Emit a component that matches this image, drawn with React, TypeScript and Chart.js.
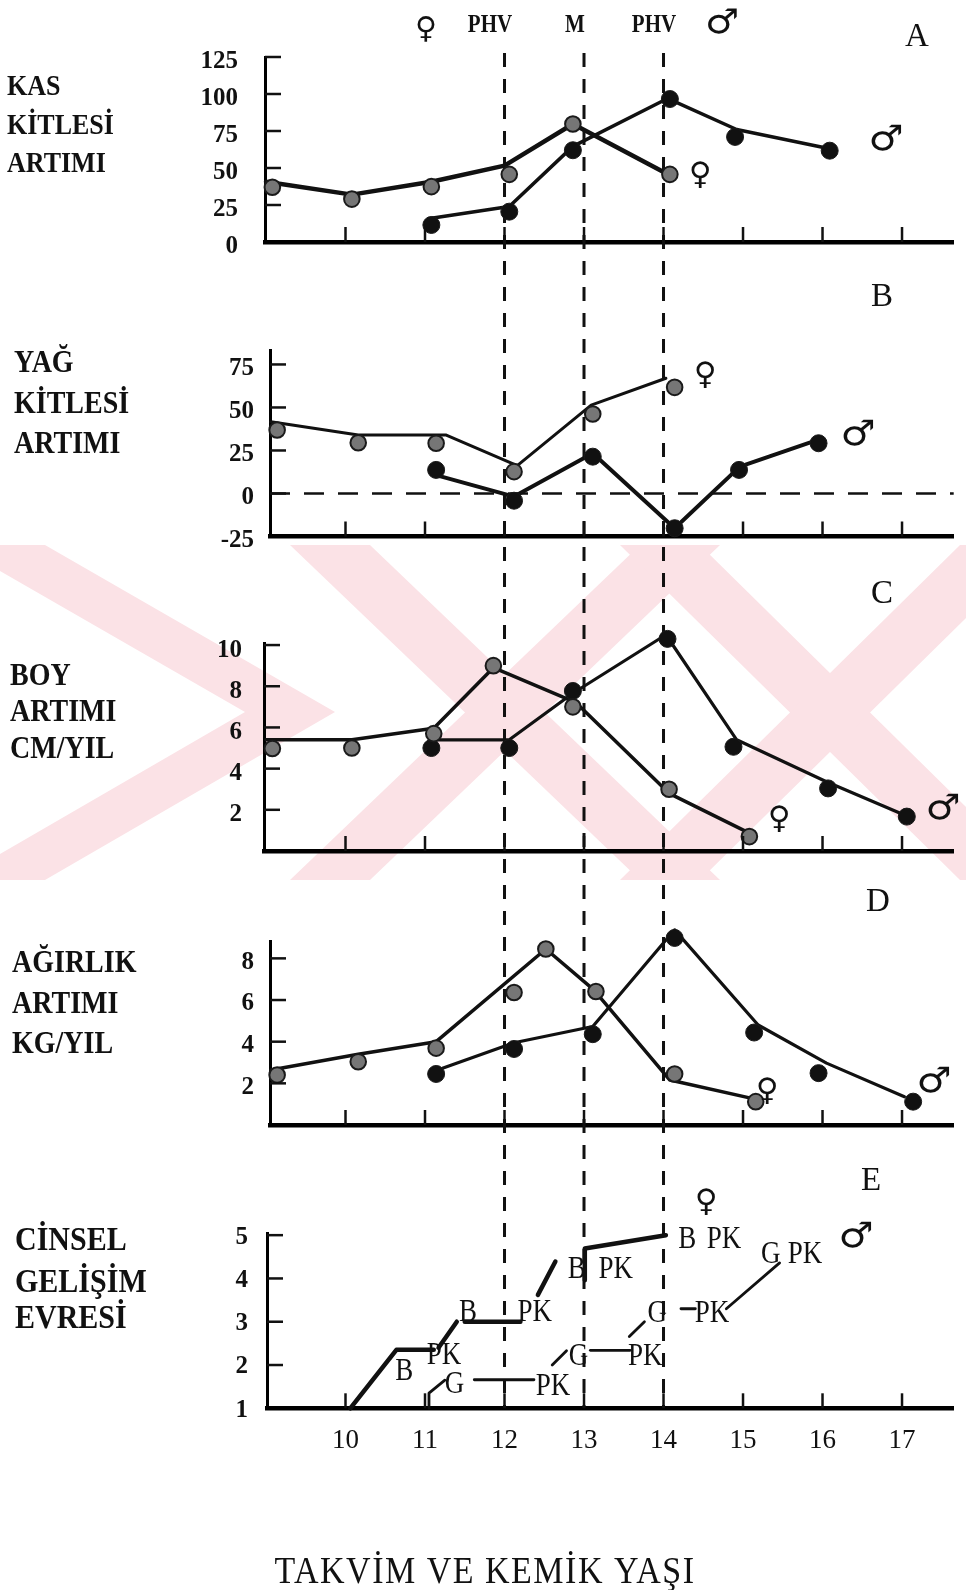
import React, { useEffect, useRef } from "react";
import { Chart, registerables } from "chart.js";

Chart.register(...registerables);

type Pair = [number, number];

// ---------- shared axis data ----------
const ageTicks = [10, 11, 12, 13, 14, 15, 16, 17];
const eventAges = [12, 13, 14]; // ♀ PHV, M (menarş), ♂ PHV
const AGE_MAX = 17.65;

// ---------- A : KAS KİTLESİ ARTIMI ----------
const kasTicks = [0, 25, 50, 75, 100, 125];
const kasFemaleLine: Pair[] = [[9.0, 40.7], [10.08, 32], [11.08, 40.7], [12.0, 51.6], [12.86, 79.7], [14.03, 46.4]];
const kasFemalePoints: Pair[] = [[9.08, 37], [10.08, 29], [11.08, 37.4], [12.06, 45.7], [12.86, 79.7], [14.08, 45.7]];
const kasMaleLine: Pair[] = [[11.08, 16], [12.06, 24], [12.86, 64.6], [14.05, 97], [14.92, 76], [16.09, 63]];
const kasMalePoints: Pair[] = [[11.08, 11.5], [12.06, 20.5], [12.86, 62], [14.08, 96.6], [14.9, 71], [16.09, 61.7]];

// ---------- B : YAĞ KİTLESİ ARTIMI ----------
const yagTicks = [-25, 0, 25, 50, 75];
const yagFemaleLine: Pair[] = [[9.06, 41.7], [10.16, 34], [11.26, 34], [12.16, 16.2], [13.09, 51.4], [14.03, 67]];
const yagFemalePoints: Pair[] = [[9.14, 36.9], [10.16, 29.5], [11.14, 29.2], [12.12, 12.7], [13.11, 46.2], [14.14, 61.7]];
const yagMaleLine: Pair[] = [[11.14, 10.7], [12.12, -1.8], [13.11, 23.4], [14.14, -20.2], [14.96, 15.6], [15.93, 31]];
const yagMalePoints: Pair[] = [[11.14, 13.7], [12.12, -4.2], [13.11, 21.4], [14.14, -20.2], [14.95, 13.7], [15.95, 29.2]];

// ---------- C : BOY ARTIMI CM/YIL ----------
const boyTicks = [2, 4, 6, 8, 10];
const boyFemaleLine: Pair[] = [[9.0, 5.4], [10.08, 5.4], [11.11, 5.96], [11.86, 8.9], [12.9, 7.2], [14.07, 2.8], [15.08, 0.87]];
const boyFemalePoints: Pair[] = [[9.08, 4.98], [10.08, 5.0], [11.11, 5.7], [11.86, 9.0], [12.86, 7.0], [14.07, 3.0], [15.08, 0.7]];
const boyMaleLine: Pair[] = [[11.11, 5.4], [12.06, 5.4], [12.86, 7.66], [14.03, 10.5], [14.92, 5.4], [16.05, 3.36], [17.03, 1.75]];
const boyMalePoints: Pair[] = [[11.08, 5.0], [12.06, 5.0], [12.86, 7.77], [14.05, 10.3], [14.88, 5.06], [16.07, 3.04], [17.06, 1.67]];

// ---------- D : AĞIRLIK ARTIMI KG/YIL ----------
const agirlikTicks = [2, 4, 6, 8];
const agirlikFemaleLine: Pair[] = [[9.06, 2.64], [10.16, 3.4], [11.14, 4.0], [12.52, 8.45], [13.12, 6.5], [14.08, 2.16], [15.11, 1.28]];
const agirlikFemalePoints: Pair[] = [[9.14, 2.4], [10.16, 3.04], [11.14, 3.69], [12.12, 6.36], [12.52, 8.45], [13.15, 6.41], [14.14, 2.45], [15.16, 1.12]];
const agirlikMaleLine: Pair[] = [[11.22, 2.73], [12.12, 3.95], [13.11, 4.73], [14.14, 9.37], [15.19, 4.8], [16.05, 2.97], [17.03, 1.36]];
const agirlikMalePoints: Pair[] = [[11.14, 2.45], [12.12, 3.65], [13.11, 4.36], [14.14, 8.98], [15.14, 4.44], [15.95, 2.49], [17.14, 1.12]];

// ---------- E : CİNSEL GELİŞİM EVRESİ ----------
const evreTicks = [1, 2, 3, 4, 5];
const evreFemaleSegments: Pair[][] = [
  [[10.06, 1.0], [10.64, 2.35], [11.11, 2.35]],
  [[11.17, 2.4], [11.4, 3.0]],
  [[11.5, 3.0], [12.2, 3.0]],
  [[12.42, 3.62], [12.64, 4.39]],
  [[13.01, 3.96], [13.01, 4.69], [14.03, 5.0]],
];
const evreMaleSegments: Pair[][] = [
  [[11.05, 1.0], [11.05, 1.35], [11.25, 1.65]],
  [[11.62, 1.66], [12.37, 1.66]],
  [[12.6, 2.0], [12.78, 2.33]],
  [[13.08, 2.34], [13.58, 2.34]],
  [[13.57, 2.66], [13.76, 3.0]],
  [[14.22, 3.3], [14.4, 3.3]],
  [[14.79, 3.3], [15.46, 4.36]],
];
// stage annotation texts (B = meme, G = genital, PK = pubik kıl), anchored at [age, stage]
const evreFemaleLabels: [string, number, number][] = [
  ["B", 10.74, 1.84], ["PK", 11.24, 2.21], ["B", 11.54, 3.2], ["PK", 12.38, 3.2],
  ["B", 12.91, 4.2], ["PK", 13.4, 4.2], ["B", 14.3, 4.89], ["PK", 14.76, 4.89],
];
const evreMaleLabels: [string, number, number][] = [
  ["G", 11.37, 1.54], ["PK", 12.61, 1.49], ["G", 12.93, 2.19], ["PK", 13.77, 2.19],
  ["G", 13.92, 3.18], ["PK", 14.61, 3.18], ["G", 15.35, 4.54], ["PK", 15.78, 4.54],
];

// ---------- styling / layout ----------
const SERIF = '"Liberation Serif", "Times New Roman", serif';
const SYM = '"DejaVu Sans", sans-serif';
const INK = "#111";
const FEMALE_FILL = "#767676";
const MALE_FILL = "#111";
const WATERMARK = "#fbe2e6";
const DASH_TOP = 53;
const DASH_BOTTOM = 1408;
const Y_AXIS_W = 70;
const X_RIGHT = 953.7;
const PX_PER_YEAR = 79.5;
const X_AT_9 = 266;

// decorative watermark bands [x1, y1, x2, y2, width] in page px
const watermarkBands: [number, number, number, number, number][] = [
  [0, 545, 290, 712, 90],
  [290, 712, 0, 880, 90],
  [330, 545, 680, 880, 80],
  [680, 545, 330, 880, 80],
  [660, 545, 1000, 880, 80],
  [1000, 545, 660, 880, 80],
];

type TextItem = {
  t: string; x: number; y: number; font: string;
  align?: CanvasTextAlign; baseline?: CanvasTextBaseline; sx?: number; sy?: number; spacing?: number;
};

const lbl = (t: string, x: number, y: number, size = 27, sy = 1.12): TextItem =>
  ({ t, x, y, font: `bold ${size}px ${SERIF}`, align: "left", baseline: "alphabetic", sy });
const letter = (t: string, x: number, y: number): TextItem =>
  ({ t, x, y, font: `33px ${SERIF}`, align: "center", baseline: "alphabetic" });
const fem = (x: number, y: number, size = 31): TextItem =>
  ({ t: "♀", x, y, font: `bold ${size}px ${SYM}`, align: "center", baseline: "middle" });
const mal = (x: number, y: number, size = 35): TextItem =>
  ({ t: "♂", x, y, font: `bold ${size}px ${SYM}`, align: "center", baseline: "middle", sx: 1.12 });
const top = (t: string, x: number, y: number): TextItem =>
  ({ t, x, y, font: `bold 21px ${SERIF}`, align: "center", baseline: "alphabetic", sy: 1.2 });

type Panel = {
  key: string; top: number; height: number; axisX: number; plotTop: number; plotBottom: number;
  yMin: number; yMax: number; yTicks: number[]; tickPad: number; labelOffset: number;
  xAxisH: number; showXLabels: boolean; zeroLine?: boolean;
  lines: { data: Pair[]; width: number }[];
  points: { data: Pair[]; female: boolean }[];
  texts: TextItem[];
  stageLabels?: [string, number, number][];
};

const panels: Panel[] = [
  {
    key: "A", top: 0, height: 265, axisX: 265, plotTop: 57, plotBottom: 242,
    yMin: 0, yMax: 125, yTicks: kasTicks, tickPad: 27, labelOffset: 5, xAxisH: 0, showXLabels: false,
    lines: [{ data: kasFemaleLine, width: 4.5 }, { data: kasMaleLine, width: 3.5 }],
    points: [{ data: kasFemalePoints, female: true }, { data: kasMalePoints, female: false }],
    texts: [
      fem(426, 30, 30), top("PHV", 490, 32), top("M", 575, 32), top("PHV", 654, 32), mal(722, 24, 34),
      letter("A", 917, 46),
      lbl("KAS", 7, 95, 26), lbl("KİTLESİ", 7, 134, 26), lbl("ARTIMI", 7, 172, 26),
      fem(700, 176), mal(886, 141),
    ],
  },
  {
    key: "B", top: 265, height: 295, axisX: 270, plotTop: 350, plotBottom: 536.5,
    yMin: -25, yMax: 83.4, yTicks: yagTicks, tickPad: 16, labelOffset: 4, xAxisH: 0, showXLabels: false, zeroLine: true,
    lines: [{ data: yagFemaleLine, width: 3 }, { data: yagMaleLine, width: 4 }],
    points: [{ data: yagFemalePoints, female: true }, { data: yagMalePoints, female: false }],
    texts: [
      letter("B", 882, 306),
      lbl("YAĞ", 14, 372, 28), lbl("KİTLESİ", 14, 413, 28), lbl("ARTIMI", 14, 453, 28),
      fem(705, 376), mal(858, 436),
    ],
  },
  {
    key: "C", top: 560, height: 310, axisX: 264, plotTop: 643, plotBottom: 851,
    yMin: 0, yMax: 10.1, yTicks: boyTicks, tickPad: 22, labelOffset: 5, xAxisH: 0, showXLabels: false,
    lines: [{ data: boyFemaleLine, width: 3.5 }, { data: boyMaleLine, width: 3.2 }],
    points: [{ data: boyFemalePoints, female: true }, { data: boyMalePoints, female: false }],
    texts: [
      letter("C", 882, 603),
      lbl("BOY", 10, 685, 28), lbl("ARTIMI", 10, 721, 28), lbl("CM/YIL", 10, 758, 28),
      fem(779, 820), mal(943, 810),
    ],
  },
  {
    key: "D", top: 870, height: 280, axisX: 270, plotTop: 941.7, plotBottom: 1125,
    yMin: 0, yMax: 8.8, yTicks: agirlikTicks, tickPad: 16, labelOffset: 4, xAxisH: 0, showXLabels: false,
    lines: [{ data: agirlikFemaleLine, width: 3.5 }, { data: agirlikMaleLine, width: 3.2 }],
    points: [{ data: agirlikFemalePoints, female: true }, { data: agirlikMalePoints, female: false }],
    texts: [
      letter("D", 878, 911),
      lbl("AĞIRLIK", 12, 972, 28), lbl("ARTIMI", 12, 1013, 28), lbl("KG/YIL", 12, 1053, 28),
      fem(767, 1092), mal(934, 1083),
    ],
  },
  {
    key: "E", top: 1150, height: 440, axisX: 267, plotTop: 1233, plotBottom: 1408.3,
    yMin: 1, yMax: 5.05, yTicks: evreTicks, tickPad: 19, labelOffset: 2, xAxisH: 181.7, showXLabels: true,
    lines: [
      ...evreFemaleSegments.map((s) => ({ data: s, width: 4.5 })),
      ...evreMaleSegments.map((s) => ({ data: s, width: 2.8 })),
    ],
    points: [],
    texts: [
      letter("E", 871, 1190),
      lbl("CİNSEL", 15, 1250, 30), lbl("GELİŞİM", 15, 1292, 30), lbl("EVRESİ", 15, 1328, 30),
      fem(706, 1203), mal(856, 1238),
      { t: "TAKVİM VE KEMİK YAŞI", x: 485, y: 1583, font: `34px ${SERIF}`, align: "center", baseline: "alphabetic", sy: 1.1, spacing: 1.5 },
    ],
    stageLabels: [...evreFemaleLabels, ...evreMaleLabels],
  },
];

const toXY = (pairs: Pair[]) => pairs.map(([x, y]) => ({ x, y }));

function drawText(ctx: CanvasRenderingContext2D, it: TextItem, x: number, y: number) {
  ctx.save();
  ctx.translate(x, y);
  ctx.scale(it.sx ?? 1, it.sy ?? 1);
  ctx.font = it.font;
  ctx.fillStyle = INK;
  ctx.textAlign = it.align ?? "center";
  ctx.textBaseline = it.baseline ?? "alphabetic";
  if (it.spacing) (ctx as any).letterSpacing = `${it.spacing}px`;
  ctx.fillText(it.t, 0, 0);
  ctx.restore();
}

function makeDecor(p: Panel) {
  return {
    id: "decor" + p.key,
    beforeDraw(chart: any) {
      const ctx: CanvasRenderingContext2D = chart.ctx;
      ctx.save();
      ctx.translate(0, -p.top);
      ctx.fillStyle = WATERMARK;
      for (const [x1, y1, x2, y2, w] of watermarkBands) {
        ctx.beginPath();
        ctx.moveTo(x1 - w / 2, y1);
        ctx.lineTo(x1 + w / 2, y1);
        ctx.lineTo(x2 + w / 2, y2);
        ctx.lineTo(x2 - w / 2, y2);
        ctx.closePath();
        ctx.fill();
      }
      ctx.restore();
    },
    beforeDatasetsDraw(chart: any) {
      const { ctx, chartArea } = chart;
      const xs = chart.scales.x;
      const ys = chart.scales.y;
      ctx.save();
      ctx.strokeStyle = INK;
      ctx.lineWidth = 3;
      ctx.setLineDash([14, 12]);
      for (const a of eventAges) {
        const px = xs.getPixelForValue(a);
        ctx.beginPath();
        ctx.moveTo(px, DASH_TOP - p.top);
        ctx.lineTo(px, DASH_BOTTOM - p.top);
        ctx.stroke();
      }
      if (p.zeroLine) {
        ctx.setLineDash([20, 14]);
        ctx.lineWidth = 2.5;
        const py = ys.getPixelForValue(0);
        ctx.beginPath();
        ctx.moveTo(chartArea.left, py);
        ctx.lineTo(chartArea.right, py);
        ctx.stroke();
      }
      ctx.restore();
    },
    afterDraw(chart: any) {
      const { ctx, chartArea } = chart;
      const xs = chart.scales.x;
      const ys = chart.scales.y;
      ctx.save();
      ctx.strokeStyle = INK;
      ctx.lineWidth = 2.5;
      ctx.setLineDash([]);
      for (const v of p.yTicks) {
        if (v === p.yMin) continue;
        const py = ys.getPixelForValue(v);
        ctx.beginPath();
        ctx.moveTo(chartArea.left, py);
        ctx.lineTo(chartArea.left + 16, py);
        ctx.stroke();
      }
      for (const a of ageTicks) {
        const px = xs.getPixelForValue(a);
        ctx.beginPath();
        ctx.moveTo(px, chartArea.bottom);
        ctx.lineTo(px, chartArea.bottom - 15);
        ctx.stroke();
      }
      ctx.restore();
      for (const it of p.texts) drawText(ctx, it, it.x, it.y - p.top);
      if (p.stageLabels) {
        for (const [t, a, s] of p.stageLabels) {
          drawText(
            ctx,
            { t, x: 0, y: 0, font: `27px ${SERIF}`, align: "center", baseline: "middle", sy: 1.15 },
            xs.getPixelForValue(a),
            ys.getPixelForValue(s)
          );
        }
      }
    },
  };
}

const zeroScalePadding = (axis: any) => {
  axis.paddingTop = 0;
  axis.paddingBottom = 0;
  axis.paddingLeft = 0;
  axis.paddingRight = 0;
};

function buildChart(canvas: HTMLCanvasElement, p: Panel) {
  const xMin = 9 + (p.axisX - X_AT_9) / PX_PER_YEAR;
  const datasets: any[] = [];
  p.lines.forEach((l) =>
    datasets.push({
      data: toXY(l.data), borderColor: INK, borderWidth: l.width, pointRadius: 0, fill: false,
      tension: 0, clip: false, order: 2, borderJoinStyle: "round", borderCapStyle: "round",
    })
  );
  p.points.forEach((pt) =>
    datasets.push({
      data: toXY(pt.data), showLine: false, clip: false, order: 1,
      pointRadius: pt.female ? 7.8 : 8.5, pointStyle: "circle",
      pointBackgroundColor: pt.female ? FEMALE_FILL : MALE_FILL,
      pointBorderColor: "#1a1a1a", pointBorderWidth: pt.female ? 2 : 1,
    })
  );
  return new Chart(canvas, {
    type: "line",
    data: { datasets },
    plugins: [makeDecor(p)],
    options: {
      animation: false,
      responsive: false,
      devicePixelRatio: 1,
      events: [],
      layout: {
        autoPadding: false,
        padding: {
          left: p.axisX - Y_AXIS_W,
          right: 966 - X_RIGHT,
          top: p.plotTop - p.top,
          bottom: p.top + p.height - p.plotBottom - p.xAxisH,
        },
      },
      plugins: { legend: { display: false }, tooltip: { enabled: false }, title: { display: false } },
      scales: {
        x: {
          type: "linear",
          min: xMin,
          max: AGE_MAX,
          grid: { display: false, drawTicks: false },
          border: { display: true, color: "#000", width: 4.5 },
          ticks: {
            display: p.showXLabels,
            color: INK,
            padding: 16,
            maxRotation: 0,
            autoSkip: false,
            font: { family: "Liberation Serif", size: 27 },
            callback: (v: any) => String(v),
          },
          afterBuildTicks: (axis: any) => {
            axis.ticks = ageTicks.map((v) => ({ value: v }));
          },
          afterFit: (axis: any) => {
            axis.height = p.xAxisH;
            zeroScalePadding(axis);
          },
        },
        y: {
          type: "linear",
          min: p.yMin,
          max: p.yMax,
          grid: { display: false, drawTicks: false },
          border: { display: true, color: "#000", width: 3 },
          ticks: {
            color: INK,
            padding: p.tickPad,
            labelOffset: p.labelOffset,
            autoSkip: false,
            font: { family: "Liberation Serif", size: 25, weight: "bold" },
            callback: (v: any) => String(v),
          },
          afterBuildTicks: (axis: any) => {
            axis.ticks = p.yTicks.map((v) => ({ value: v }));
          },
          afterFit: (axis: any) => {
            axis.width = Y_AXIS_W;
            zeroScalePadding(axis);
          },
        },
      },
    } as any,
  });
}

export default function App() {
  const refs = useRef<(HTMLCanvasElement | null)[]>([]);
  useEffect(() => {
    const charts = panels.map((p, i) => buildChart(refs.current[i] as HTMLCanvasElement, p));
    return () => charts.forEach((c) => c.destroy());
  }, []);
  return (
    <div style={{ position: "absolute", left: 0, top: 0, width: 966, height: 1590, background: "#fff", overflow: "hidden" }}>
      {panels.map((p, i) => (
        <canvas
          key={p.key}
          ref={(el) => {
            refs.current[i] = el;
          }}
          width={966}
          height={p.height}
          style={{ position: "absolute", left: 0, top: p.top, width: 966, height: p.height, display: "block" }}
        />
      ))}
    </div>
  );
}
